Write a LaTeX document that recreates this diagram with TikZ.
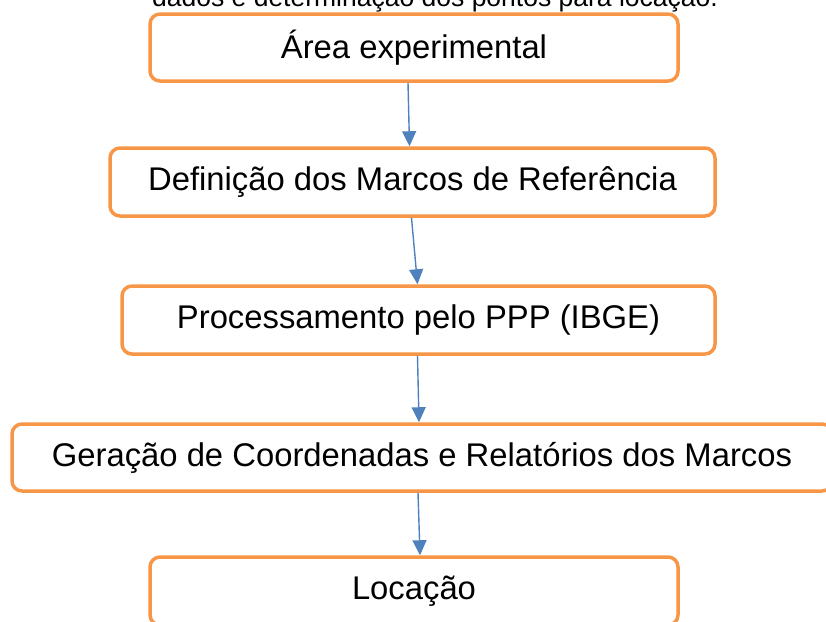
\documentclass[tikz,border=0pt]{standalone}
\usepackage{fontspec}
\setmainfont{Liberation Sans}
\usetikzlibrary{arrows.meta}
\definecolor{laranja}{RGB}{247,150,70}
\definecolor{azul}{RGB}{79,129,189}
\tikzset{etapa/.style={draw=laranja, line width=3.5pt, rounded corners=10pt, fill=white,
                       inner sep=0pt, font=\fontsize{32.8}{38}\selectfont},
         seta/.style={draw=azul, line width=1.4pt, -{Triangle[length=15pt,width=14pt]}}}

\begin{document}
\begin{tikzpicture}[x=1pt, y=-1pt]
	\useasboundingbox (0,0) rectangle (826,621);
	\clip (0,0) rectangle (826,621);

	% legenda cortada no topo
	\node[anchor=base, inner sep=0pt, font=\fontsize{26.5}{32}\selectfont] (legenda) at (435,6)
		{dados e determinação dos pontos para locação.};

	% etapas
	\node[etapa, minimum width=528pt, minimum height=67pt] (area) at (414,47.5) {Área experimental};
	\node[etapa, minimum width=605pt, minimum height=68pt] (marcos) at (412.5,182) {Definição dos Marcos de Referência};
	\node[etapa, minimum width=593pt, minimum height=68pt] (ppp) at (418.5,320) {Processamento pelo PPP (IBGE)};
	\node[etapa, minimum width=820pt, minimum height=67pt] (coord) at (422,457.5) {Geração de Coordenadas e Relatórios dos Marcos};
	\node[etapa, minimum width=528pt, minimum height=68pt] (locacao) at (414,591) {Locação};

	% setas
	\draw[seta] ([xshift=-6pt]area.south) -- ([xshift=-3pt]marcos.north);
	\draw[seta] ([xshift=-1pt]marcos.south) -- ([xshift=-1pt]ppp.north);
	\draw[seta] ([xshift=-1pt]ppp.south) -- ([xshift=-3pt]coord.north);
	\draw[seta] ([xshift=-4pt]coord.south) -- ([xshift=6pt]locacao.north);
\end{tikzpicture}
\end{document}
